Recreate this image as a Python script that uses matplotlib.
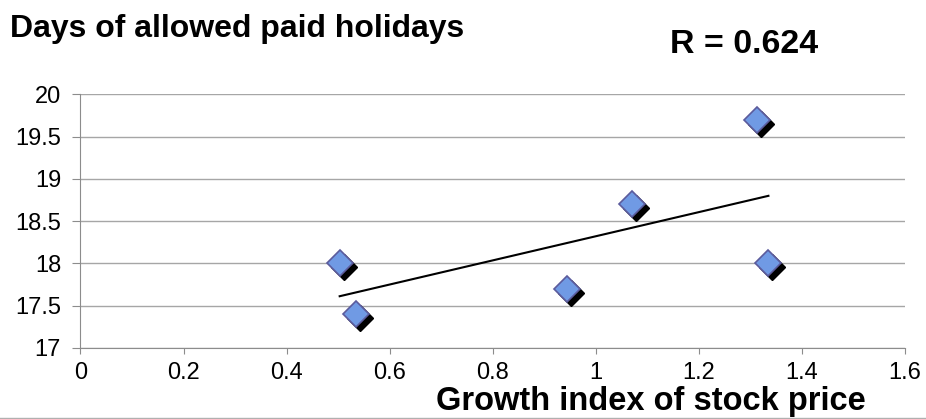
import numpy as np
import matplotlib.pyplot as plt
import matplotlib.transforms as mtransforms

plt.rcParams['font.family'] = ['Liberation Sans', 'DejaVu Sans']

# growth index of stock price vs days of allowed paid holidays
growth = [0.503, 0.535, 0.945, 1.071, 1.312, 1.335]
holidays = [18.0, 17.4, 17.7, 18.7, 19.7, 18.0]
x_ticks = [0, 0.2, 0.4, 0.6, 0.8, 1, 1.2, 1.4, 1.6]
y_ticks = [17, 17.5, 18, 18.5, 19, 19.5, 20]

fig = plt.figure(figsize=(9.26, 4.19), dpi=100)
ax = fig.add_axes([0.0869, 0.1695, 0.9773 - 0.0869, 0.775 - 0.1695])

ax.set_xlim(0, 1.6)
ax.set_ylim(17, 20)
ax.set_xticks(x_ticks)
ax.set_xticklabels([f'{t:g}' for t in x_ticks])
ax.set_yticks(y_ticks)
ax.set_yticklabels([f'{t:g}' for t in y_ticks])
ax.grid(axis='y', color='#a6a6a6', lw=1)
ax.set_axisbelow(True)
for s in ['top', 'right']:
    ax.spines[s].set_visible(False)
for s in ['left', 'bottom']:
    ax.spines[s].set_color('#8c8c8c')
ax.tick_params(colors='#8c8c8c', labelcolor='black', labelsize=17, direction='out')
ax.tick_params(axis='y', length=6, pad=8)
ax.tick_params(axis='x', length=4, pad=6)

# linear trendline
x = np.array(growth)
y = np.array(holidays)
k, b = np.polyfit(x, y, 1)
xs = np.array([x.min(), x.max()])
ax.plot(xs, k * xs + b, color='black', lw=1.5, zorder=3)

# diamonds with drop shadow
shadow = mtransforms.offset_copy(ax.transData, fig=fig, x=4, y=-4, units='dots')
ax.plot(growth, holidays, 'D', ms=13, color='black', mec='black', transform=shadow, zorder=4)
ax.plot(growth, holidays, 'D', ms=13, color='#709ae4', mec='#5b5b9c', mew=1.2, zorder=5)

fig.text(10 / 926, 1 - 37 / 419, 'Days of allowed paid holidays', fontsize=23,
         fontweight='bold', ha='left', va='baseline')
fig.text(670 / 926, 1 - 53 / 419, 'R = 0.624', fontsize=24.5,
         fontweight='bold', ha='left', va='baseline')
fig.text(866 / 926, 1 - 410 / 419, 'Growth index of stock price', fontsize=23.5,
         fontweight='bold', ha='right', va='baseline')
fig.add_artist(plt.Line2D([0, 1], [1 - 417.5 / 419] * 2, color='#b0b0b0', lw=1,
                          transform=fig.transFigure))

fig.savefig('out.png', dpi=100)
